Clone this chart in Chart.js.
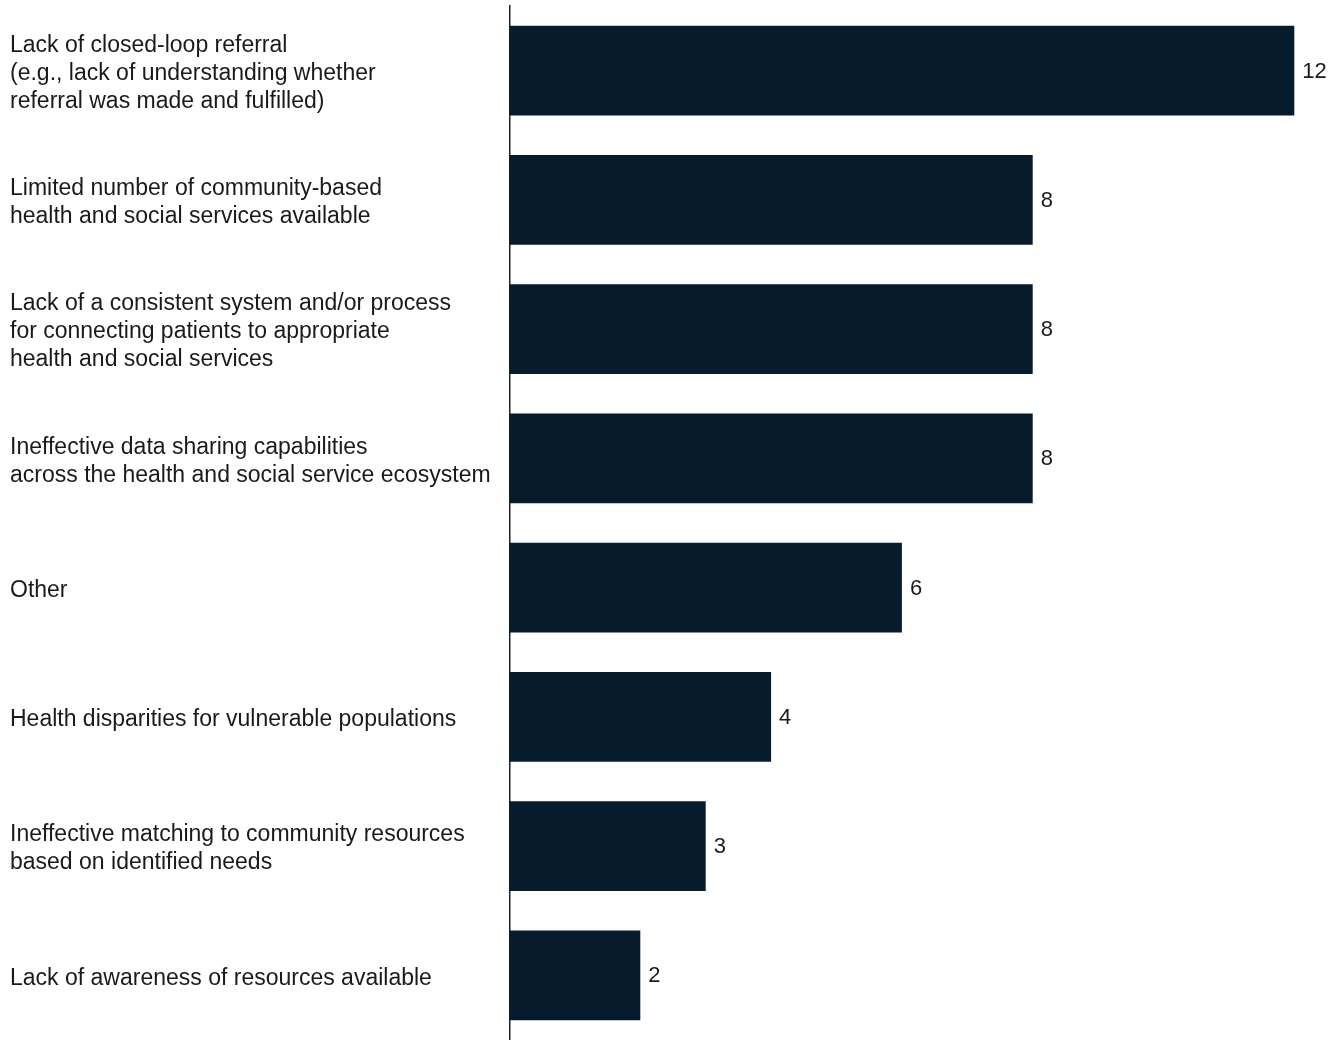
<!DOCTYPE html>
<html>
<head>
<meta charset="utf-8">
<script src="https://cdn.jsdelivr.net/npm/chart.js@4/dist/chart.umd.min.js"></script>
<style>
  html, body { margin: 0; padding: 0; background: #fff; }
  #wrap { width: 1341px; height: 1040px; }
</style>
</head>
<body>
<div id="wrap"><canvas id="bar-chart"></canvas></div>
<script>
var categories = [
    ["Lack of closed-loop referral", "(e.g., lack of understanding whether", "referral was made and fulfilled)"],
    ["Limited number of community-based", "health and social services available"],
    ["Lack of a consistent system and/or process", "for connecting patients to appropriate", "health and social services"],
    ["Ineffective data sharing capabilities", "across the health and social service ecosystem"],
    "Other",
    "Health disparities for vulnerable populations",
    ["Ineffective matching to community resources", "based on identified needs"],
    "Lack of awareness of resources available"
];
var counts = [12, 8, 8, 8, 6, 4, 3, 2];

var barColor  = "#061b2c";
var textColor = "#1a1a1a";
var fontFamily = "'Liberation Sans', Arial, sans-serif";

// draws the value to the right of each bar
var valueLabels = {
    id: 'valueLabels',
    afterDatasetsDraw: function(chart) {
        var ctx = chart.ctx;
        var meta = chart.getDatasetMeta(0);
        ctx.save();
        ctx.fillStyle = textColor;
        ctx.font = "22px " + fontFamily;
        ctx.textAlign = 'left';
        ctx.textBaseline = 'middle';
        meta.data.forEach(function(bar, i) {
            ctx.fillText(counts[i], bar.x + 8, bar.y + 1);
        });
        ctx.restore();
    }
};

window.onload = function() {
    var ctx = document.getElementById("bar-chart").getContext('2d');
    new Chart(ctx, {
        type: 'bar',
        data: {
            labels: categories,
            datasets: [{
                data: counts,
                backgroundColor: barColor,
                borderWidth: 0,
                barPercentage: 0.695,
                categoryPercentage: 1.0
            }]
        },
        options: {
            indexAxis: 'y',
            responsive: true,
            maintainAspectRatio: false,
            animation: false,
            layout: { padding: { left: 10, right: 14, top: 6, bottom: 0 } },
            plugins: {
                legend: { display: false },
                tooltip: { enabled: false }
            },
            scales: {
                x: {
                    display: false,
                    min: 0,
                    max: 12.5
                },
                y: {
                    afterFit: function(scale) {
                        scale.width = 499.5;
                        // labels may overflow top/bottom, don't shrink the plot for them
                        scale.paddingTop = 0;
                        scale.paddingBottom = 0;
                    },
                    grid: { display: false, drawTicks: false },
                    border: { display: true, color: '#222', width: 1.5 },
                    ticks: {
                        crossAlign: 'far',
                        color: textColor,
                        font: { family: fontFamily, size: 23, lineHeight: 1.217 },
                        padding: 0,
                        labelOffset: 3
                    }
                }
            }
        },
        plugins: [valueLabels]
    });
};
</script>
</body>
</html>
